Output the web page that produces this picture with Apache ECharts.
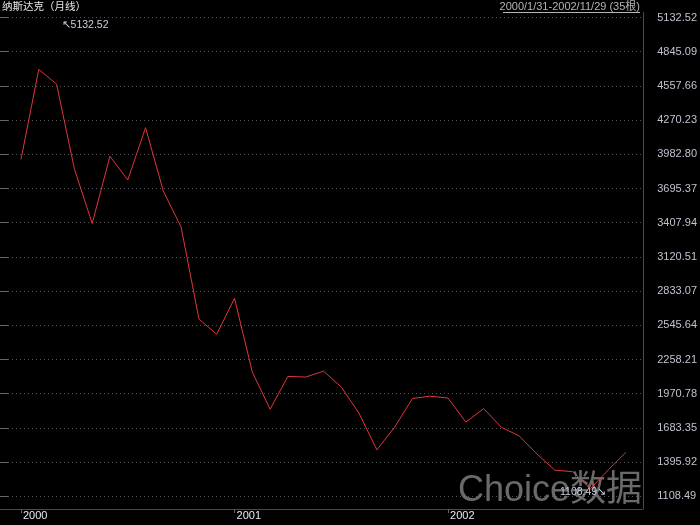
<!DOCTYPE html>
<html>
<head>
<meta charset="utf-8">
<script src="https://cdn.jsdelivr.net/npm/echarts@6/dist/echarts.min.js"></script>
<style>
html,body{margin:0;padding:0;background:#000;}
#c{width:700px;height:525px;}
</style>
</head>
<body>
<div id="c"></div>
<script>
var categories = [
  '2000/1','2000/2','2000/3','2000/4','2000/5','2000/6','2000/7','2000/8','2000/9','2000/10','2000/11','2000/12',
  '2001/1','2001/2','2001/3','2001/4','2001/5','2001/6','2001/7','2001/8','2001/9','2001/10','2001/11','2001/12',
  '2002/1','2002/2','2002/3','2002/4','2002/5','2002/6','2002/7','2002/8','2002/9','2002/10','2002/11'
];
var closes = [
  3940.35, 4696.69, 4572.83, 3860.66, 3400.91, 3966.11, 3766.99, 4206.35, 3672.82, 3369.63, 2597.93, 2470.52,
  2772.73, 2151.83, 1840.26, 2116.24, 2110.49, 2160.54, 2027.13, 1805.43, 1498.80, 1690.20, 1930.58, 1950.40,
  1934.03, 1731.49, 1845.35, 1688.23, 1615.73, 1463.21, 1328.26, 1314.85, 1172.06, 1329.75, 1478.78
];
var yTickLabels = ['1108.49','1395.92','1683.35','1970.78','2258.21','2545.64','2833.07','3120.51',
  '3407.94','3695.37','3982.80','4270.23','4557.66','4845.09','5132.52'];
var highIdx = 2, highVal = 5132.52;
var lowIdx = 33, lowVal = 1108.49;
var titleText = '纳斯达克（月线）';
var rangeText = '2000/1/31-2002/11/29 (35根)';
var watermark = 'Choice数据';

var yMin = lowVal, yMax = highVal;
var yInterval = (yMax - yMin) / (yTickLabels.length - 1);

var chart = echarts.init(document.getElementById('c'), null, {renderer: 'canvas'});
var axisGrey = '#4a4a4a';
var option = {
  backgroundColor: '#000',
  animation: false,
  grid: [
    {left: 0, right: 57, top: 17.5, bottom: 28.7, containLabel: false},
    {left: 21, right: 74, top: 17.5, bottom: 28.7, containLabel: false}
  ],
  xAxis: [
    {
      gridIndex: 0, type: 'value', min: 0, max: 1, offset: 12.7,
      axisLine: {show: true, lineStyle: {color: axisGrey, width: 1}},
      axisTick: {show: false}, axisLabel: {show: false}, splitLine: {show: false}
    },
    {
      gridIndex: 1, type: 'category', data: categories, boundaryGap: false, offset: 12.7,
      axisLine: {show: false},
      axisTick: {show: true, length: 4, lineStyle: {color: '#666'},
        interval: function (i) { return i % 12 === 0; }},
      axisLabel: {
        show: true, margin: 1, align: 'left', padding: [0, 0, 0, 2],
        color: '#e6eaf2', fontSize: 11, fontFamily: 'Liberation Sans, Arial, sans-serif',
        interval: function (i) { return i % 12 === 0; },
        formatter: function (v) { return v.split('/')[0]; }
      },
      splitLine: {show: false}
    }
  ],
  yAxis: [
    {
      gridIndex: 0, type: 'value', position: 'right', min: yMin, max: yMax, interval: yInterval,
      axisLine: {show: false},
      axisTick: {show: true, length: 8, lineStyle: {color: '#666'}},
      axisLabel: {
        show: true, margin: 15, color: '#bfc3cf', fontSize: 11,
        fontFamily: 'Liberation Sans, Arial, sans-serif',
        formatter: function (v, i) { return yTickLabels[i] !== undefined ? yTickLabels[i] : v.toFixed(2); }
      },
      splitLine: {show: true, lineStyle: {color: '#555', width: 1, type: [1, 3]}}
    },
    {
      gridIndex: 1, type: 'value', min: yMin, max: yMax, show: false, splitLine: {show: false}
    }
  ],
  graphic: [
    {type: 'text', left: 2, top: 1, z: 10,
      style: {text: titleText, fill: '#e8e8e8', font: '10.5px "Noto Sans CJK SC", sans-serif'}},
    {type: 'text', z: 10, x: 640, y: 1,
      style: {text: rangeText, fill: '#b4b4b4', align: 'right', verticalAlign: 'top',
        font: '11px "Liberation Sans", "Noto Sans CJK SC", sans-serif'}},
    {type: 'line', z: 10, shape: {x1: 503, y1: 12.5, x2: 640, y2: 12.5},
      style: {stroke: '#b4b4b4', lineWidth: 1}},
    {type: 'line', z: 10, shape: {x1: 643.5, y1: 12, x2: 643.5, y2: 509.5},
      style: {stroke: axisGrey, lineWidth: 1}},
    {type: 'text', z: 1, x: 458, y: 491,
      style: {text: watermark, fill: 'rgba(125,125,125,0.85)', verticalAlign: 'middle',
        font: '36px "Liberation Sans", "Noto Sans CJK SC", sans-serif'}}
  ],
  series: [
    {
      type: 'line', xAxisIndex: 1, yAxisIndex: 1, data: closes, z: 5,
      showSymbol: false, symbol: 'none',
      lineStyle: {color: '#e0353a', width: 1},
      markPoint: {
        symbol: 'circle', symbolSize: 0, silent: true,
        data: [
          {coord: [highIdx, highVal], value: highVal,
            label: {show: true, position: [5, 8], align: 'left', verticalAlign: 'middle',
              formatter: '↖' + highVal.toFixed(2), color: '#c8cedc', fontSize: 10.5,
              fontFamily: 'Liberation Sans, Arial, sans-serif'}},
          {coord: [lowIdx, lowVal], value: lowVal,
            label: {show: true, position: [-2, -4], align: 'right', verticalAlign: 'middle',
              formatter: lowVal.toFixed(2) + '↘', color: '#c8cedc', fontSize: 10.5,
              fontFamily: 'Liberation Sans, Arial, sans-serif'}}
        ]
      }
    }
  ]
};
chart.setOption(option);
</script>
</body>
</html>
